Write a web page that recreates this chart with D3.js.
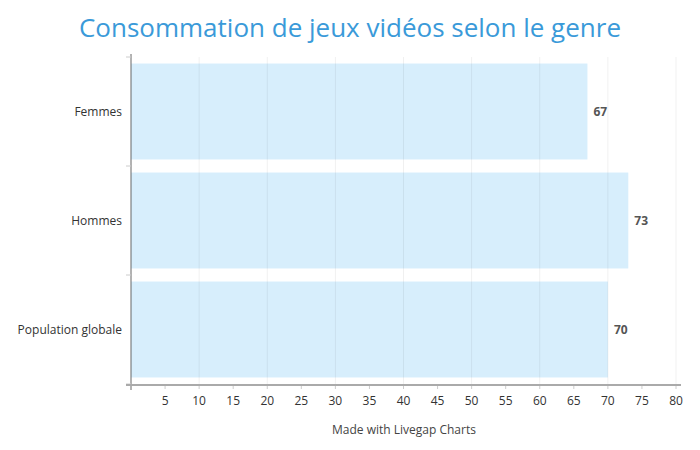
<!DOCTYPE html>
<html><head><meta charset="utf-8">
<script src="https://cdn.jsdelivr.net/npm/d3@7"></script>
<style>body{margin:0;background:#fff;font-family:"Open Sans",sans-serif;}</style>
</head><body><svg id="c" width="700" height="450"></svg>
<script>
const categories = ["Femmes", "Hommes", "Population globale"];
const values = [67, 73, 70];
const xTicks = [5,10,15,20,25,30,35,40,45,50,55,60,65,70,75,80];
const title = "Consommation de jeux vidéos selon le genre";
const credit = "Made with Livegap Charts";

const svg = d3.select("#c");
const m = {l:131, r:676, t:57, b:384};
const x = d3.scaleLinear().domain([0,80]).range([m.l, m.r]);
const y = d3.scaleBand().domain(categories).range([m.t, m.b]).paddingInner(0.12).paddingOuter(0.06);
const yb = d3.scaleBand().domain(categories).range([m.t, m.b]);

svg.append("text").attr("x",350).attr("y",37).attr("text-anchor","middle")
  .attr("font-size",26).attr("fill","#3a9ad9").text(title);

// bars
svg.append("g").selectAll("rect").data(values).join("rect")
  .attr("x",x(0)).attr("y",(d,i)=>y(categories[i])).attr("height",y.bandwidth())
  .attr("width",d=>x(d)-x(0)).attr("fill","#d7eefc");

// grid
svg.append("g").selectAll("line").data(d3.range(10,81,10)).join("line")
  .attr("x1",d=>x(d)).attr("x2",d=>x(d)).attr("y1",m.t).attr("y2",m.b)
  .attr("stroke","#000").attr("stroke-opacity",0.06).attr("stroke-width",1);

// value labels
svg.append("g").selectAll("text").data(values).join("text")
  .attr("x",d=>x(d)+6).attr("y",(d,i)=>y(categories[i])+y.bandwidth()/2+4)
  .attr("font-size",12).attr("font-weight","bold").attr("fill","#555").text(d=>d);

// y axis
const ya = svg.append("g");
ya.append("line").attr("x1",m.l).attr("x2",m.l).attr("y1",m.t-3).attr("y2",m.b+6).attr("stroke","#666").attr("stroke-width",1);
const bounds = categories.map(c=>yb(c)).concat([m.b]);
ya.selectAll("line.t").data(bounds).join("line").attr("class","t")
  .attr("x1",m.l-5).attr("x2",m.l).attr("y1",d=>d).attr("y2",d=>d).attr("stroke","#ccc");
ya.selectAll("text").data(categories).join("text")
  .attr("x",m.l-9).attr("y",c=>yb(c)+yb.bandwidth()/2+4).attr("text-anchor","end")
  .attr("font-size",12).attr("fill","#333").text(c=>c);

// x axis
const xa = svg.append("g");
xa.append("line").attr("x1",m.l-5).attr("x2",m.r+5).attr("y1",m.b+1).attr("y2",m.b+1).attr("stroke","#aaa").attr("stroke-width",2);
xa.selectAll("line.t").data(xTicks).join("line").attr("class","t")
  .attr("x1",d=>x(d)).attr("x2",d=>x(d)).attr("y1",m.b+2).attr("y2",m.b+5).attr("stroke","#ccc");
xa.selectAll("text").data(xTicks).join("text")
  .attr("x",d=>x(d)).attr("y",m.b+21).attr("text-anchor","middle")
  .attr("font-size",12).attr("fill","#333").text(d=>d);

svg.append("text").attr("x",404).attr("y",434).attr("text-anchor","middle")
  .attr("font-size",12).attr("fill","#444").text(credit);
</script></body></html>
